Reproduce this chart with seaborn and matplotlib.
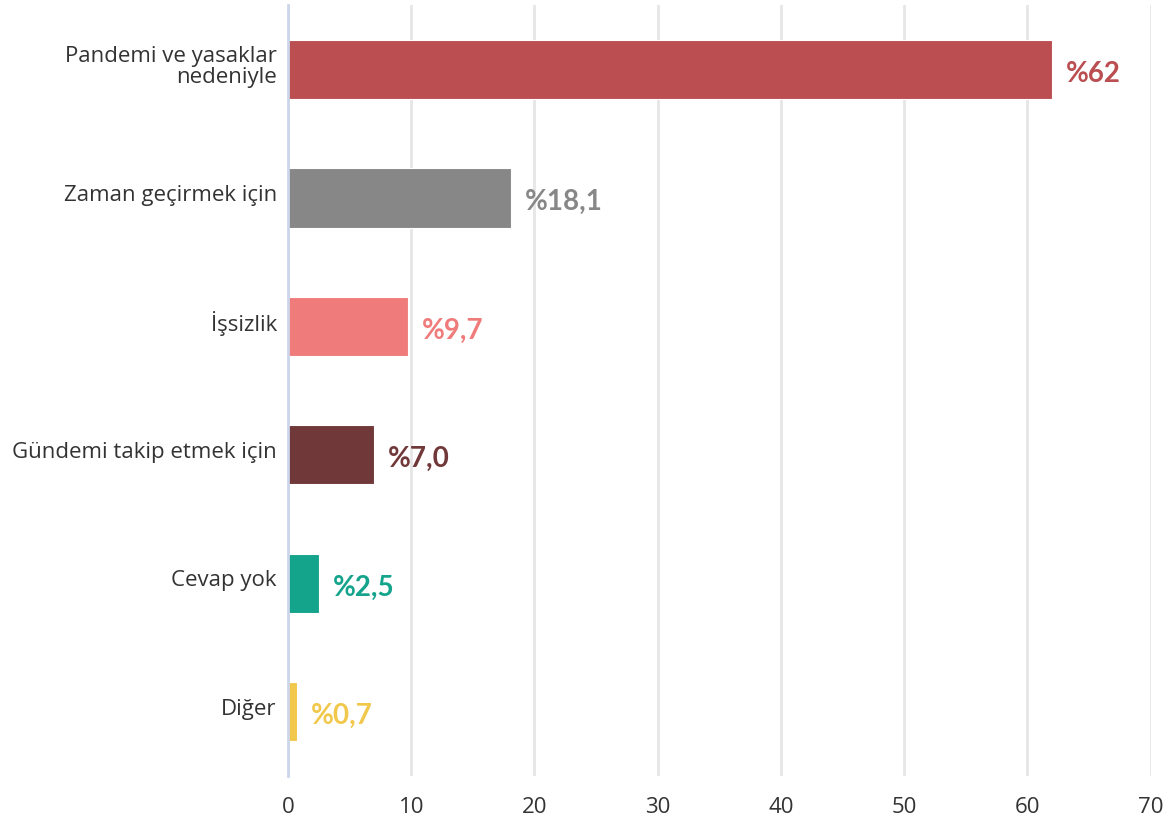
import matplotlib
matplotlib.use("Agg")
import matplotlib.pyplot as plt
import matplotlib.transforms as mtransforms
import seaborn as sns
import pandas as pd

# Reasons (survey shares, percent)
categories = [
    "Pandemi ve yasaklar\nnedeniyle",
    "Zaman geçirmek için",
    "İşsizlik",
    "Gündemi takip etmek için",
    "Cevap yok",
    "Diğer",
]
values = [62, 18.1, 9.7, 7.0, 2.5, 0.7]
decimals = [0, 1, 1, 1, 1, 1]
colors = ["#BA4E51", "#878787", "#F07B7B", "#703838", "#14A38B", "#F1C84B"]
x_ticks = [0, 10, 20, 30, 40, 50, 60, 70]

df = pd.DataFrame({"reason": categories, "share": values})

sns.set_theme(style="white")
plt.rcParams["font.family"] = ["Open Sans", "DejaVu Sans"]

fig = plt.figure(figsize=(11.71, 8.23), dpi=100)
ax = fig.add_axes([0.2459, 0.057, 0.7368, 0.9366])

sns.barplot(
    data=df, x="share", y="reason", hue="reason", palette=colors,
    orient="h", width=0.46, legend=False, ax=ax, saturation=1,
    edgecolor="white", linewidth=0.8,
)

ax.set_xlim(0, 70)
ax.set_xticks(x_ticks)
ax.set_xticklabels([str(t) for t in x_ticks])
ax.set_xlabel("")
ax.set_ylabel("")

# vertical grid
ax.grid(axis="x", color="#E6E6E6", linewidth=2)
ax.grid(axis="y", visible=False)
ax.set_axisbelow(True)

for side in ["top", "right", "bottom"]:
    ax.spines[side].set_visible(False)
ax.spines["left"].set_color("#CCD6EB")
ax.spines["left"].set_linewidth(2)
ax.spines["left"].set_zorder(1.5)

ax.tick_params(axis="x", length=0, pad=15, labelsize=16, labelcolor="#333333")
ax.tick_params(axis="y", length=0, pad=8, labelsize=16, labelcolor="#333333")

# lift category labels slightly above bar centres
shift = mtransforms.ScaledTranslation(0, 5 / 100, fig.dpi_scale_trans)
for lbl in ax.get_yticklabels():
    lbl.set_transform(lbl.get_transform() + shift)
    lbl.set_multialignment("right")
    lbl.set_linespacing(1.0)

# value labels
for i, (v, d, c) in enumerate(zip(values, decimals, colors)):
    txt = "%" + f"{v:.{d}f}".replace(".", ",")
    ax.annotate(
        txt, xy=(v, i), xytext=(10, -3), textcoords="offset points",
        ha="left", va="center", fontsize=20, fontweight="bold", color=c,
        family=["Lato", "DejaVu Sans"],
    )

fig.savefig("out.png", dpi=100)
